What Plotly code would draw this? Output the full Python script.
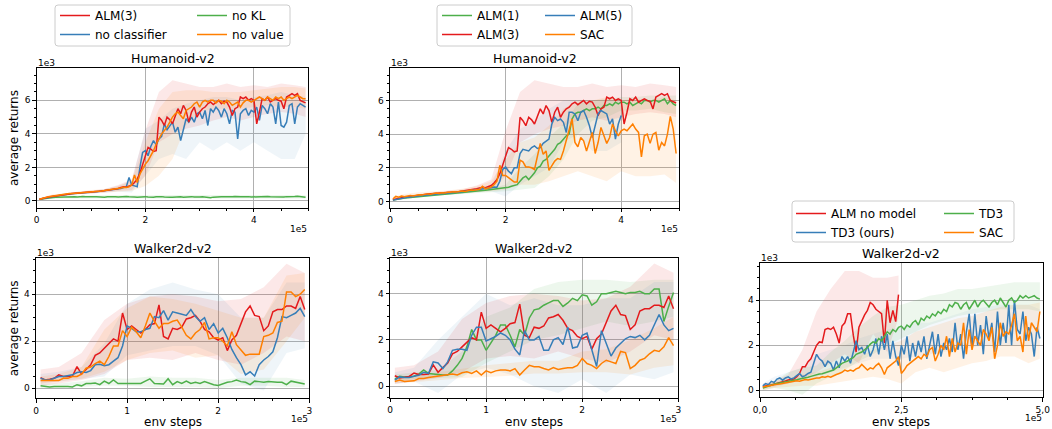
import numpy as np
import plotly.graph_objects as go

W, H = 1052, 429
RED, BLUE, GREEN, ORANGE = "#e41a1c", "#377eb8", "#4daf4a", "#ff7f00"
FONT = "DejaVu Sans"

# ---------------- data (returns in 1e3, env steps in 1e5) ----------------
HUM_STEPS = np.round(np.arange(1, 100) * 0.05, 2)      # 0.05 .. 4.95
WALK_STEPS = np.round(np.arange(1, 60) * 0.05, 2)      # 0.05 .. 2.95
HB_X = [0.05, 0.25, 0.5, 0.75, 1.0, 1.25, 1.5, 1.75, 2.0, 2.25, 2.5, 2.75,
        3.0, 3.25, 3.5, 3.75, 4.0, 4.25, 4.5, 4.75, 4.95]
WB_X = [0.05, 0.25, 0.5, 0.75, 1.0, 1.25, 1.5, 1.75, 2.0, 2.25, 2.5, 2.75, 2.95]
RB5_X = [0.05, 0.25, 0.5, 0.75, 1.0, 1.25, 1.5, 1.75, 2.0, 2.25, 2.45]

# Humanoid-v2
H_ALM3 = [0.10,0.15,0.18,0.22,0.25,0.28,0.30,0.33,0.35,0.38,0.40,0.42,0.44,0.45,0.47,0.48,0.50,0.51,0.52,0.54,
          0.55,0.56,0.58,0.60,0.62,0.65,0.68,0.70,0.72,0.75,
          0.80,0.85,0.82,0.90,0.95,1.10,1.30,1.65,2.20,2.75,
          3.20,3.10,2.95,3.00,5.00,4.80,4.50,5.00,4.85,4.60,
          5.10,5.50,5.20,5.70,5.40,4.70,5.30,5.60,5.00,5.30,
          5.50,5.60,5.80,5.90,5.75,5.90,6.00,5.80,5.95,5.90,
          5.60,5.10,5.50,5.60,6.20,6.10,6.20,6.00,6.10,6.00,
          4.60,5.30,6.10,6.00,6.20,5.90,6.00,6.10,6.00,5.95,
          5.50,6.20,6.30,6.40,6.30,6.40,6.00,5.90,5.85]
H_NOCLS = [0.10,0.14,0.17,0.21,0.24,0.27,0.30,0.32,0.35,0.37,0.39,0.41,0.43,0.44,0.46,0.47,0.49,0.50,0.51,0.53,
           0.54,0.55,0.57,0.59,0.60,0.63,0.66,0.68,0.70,0.72,
           0.75,0.80,0.85,1.40,0.95,0.90,0.85,2.00,2.90,3.00,
           2.70,3.25,3.60,3.35,3.70,3.85,4.60,4.25,4.50,4.70,
           4.10,4.40,3.60,4.30,4.90,4.70,5.00,4.70,5.20,5.30,
           4.90,5.40,4.50,5.50,5.30,5.60,5.40,5.00,5.50,5.20,
           4.60,5.40,5.30,3.70,5.20,5.40,5.50,5.10,5.40,5.30,
           5.60,4.80,5.70,5.50,5.20,5.80,5.60,4.60,5.90,4.50,
           4.40,4.70,5.70,5.80,4.60,5.60,5.80,5.70,5.60]
H_NOKL = [0.10,0.13,0.16,0.18,0.20,0.21,0.22,0.23,0.24,0.23,0.25,0.24,0.26,0.25,0.24,0.26,0.27,0.25,0.24,0.23,
          0.25,0.26,0.24,0.22,0.23,0.25,0.26,0.27,0.25,0.24,0.26,0.28,0.27,0.25,0.26,0.24,0.23,0.25,0.27,0.26,
          0.24,0.22,0.23,0.25,0.27,0.26,0.24,0.25,0.23,0.22,0.24,0.26,0.25,0.23,0.24,0.27,0.26,0.24,0.22,0.24,
          0.25,0.23,0.22,0.20,0.23,0.25,0.24,0.26,0.25,0.24,0.23,0.25,0.27,0.28,0.26,0.25,0.27,0.26,0.24,0.25,
          0.23,0.24,0.26,0.28,0.27,0.25,0.24,0.26,0.25,0.23,0.24,0.26,0.25,0.24,0.27,0.28,0.26,0.24,0.23]
H_NOVAL = [0.10,0.16,0.20,0.24,0.27,0.30,0.32,0.34,0.37,0.40,0.42,0.44,0.45,0.46,0.48,0.49,0.50,0.52,0.53,0.55,
           0.56,0.57,0.58,0.60,0.62,0.64,0.66,0.68,0.70,0.74,
           0.78,0.82,0.80,0.85,0.95,1.55,1.10,1.60,1.90,2.20,
           2.40,2.70,3.00,3.40,3.70,4.00,4.20,4.40,4.70,5.00,
           5.20,5.30,5.10,4.90,5.40,5.50,5.60,5.80,5.90,5.60,
           5.90,6.00,5.90,6.00,6.00,5.85,6.00,5.95,5.80,6.00,
           5.90,5.70,5.80,5.90,5.60,5.85,6.00,6.00,5.90,6.00,
           6.10,6.20,6.10,6.00,6.20,6.10,6.00,6.20,6.10,6.20,
           6.00,6.10,6.20,6.10,6.20,6.30,6.20,6.10,6.10]
H_ALM1 = [0.08,0.12,0.15,0.18,0.20,0.22,0.24,0.26,0.28,0.30,0.32,0.33,0.35,0.36,0.38,0.39,0.40,0.42,0.43,0.45,
          0.46,0.48,0.50,0.52,0.53,0.55,0.56,0.58,0.60,0.62,
          0.63,0.65,0.66,0.68,0.70,0.72,0.74,0.75,0.78,0.80,
          0.85,0.90,0.95,1.00,1.20,1.40,1.50,1.30,1.50,1.70,
          2.00,2.10,2.40,2.50,2.70,2.90,3.10,3.40,3.50,3.70,
          3.90,4.00,4.90,5.20,5.30,5.30,5.40,5.50,5.40,5.50,
          5.50,5.60,5.50,5.70,5.70,5.80,5.70,5.90,5.80,5.90,
          5.90,5.80,5.90,5.70,5.80,5.90,5.80,6.00,6.00,5.90,
          6.00,6.00,5.90,6.00,6.10,5.80,6.00,5.80,5.70]
H_ALM5 = [0.08,0.12,0.16,0.20,0.23,0.25,0.27,0.30,0.32,0.33,0.35,0.37,0.39,0.40,0.42,0.44,0.45,0.47,0.48,0.50,
          0.52,0.54,0.55,0.56,0.58,0.60,0.62,0.64,0.66,0.68,
          0.70,0.72,0.75,0.78,0.82,0.86,0.85,1.20,1.90,2.05,
          1.80,1.65,2.00,2.00,2.85,3.10,3.05,3.00,3.20,3.30,
          3.15,3.20,3.45,3.60,3.70,4.60,5.00,4.80,4.90,4.70,
          4.10,5.30,5.30,5.20,4.80,5.30,5.40,5.00,4.50,3.80,
          4.60,5.20,5.40,5.30,5.20,4.60,4.90,3.70,4.60,5.10]
H_SAC = [0.15,0.30,0.25,0.32,0.28,0.33,0.35,0.32,0.38,0.40,0.38,0.42,0.45,0.43,0.47,0.50,0.48,0.52,0.50,0.55,
         0.55,0.58,0.56,0.60,0.62,0.60,0.65,0.68,0.66,0.70,
         0.72,0.90,0.75,0.80,0.85,1.00,1.20,2.15,1.55,1.55,
         1.40,1.25,1.15,1.15,2.45,2.35,2.05,2.05,2.00,1.90,
         2.65,3.45,2.80,3.00,1.85,2.10,2.40,2.55,2.50,3.00,
         3.60,4.20,4.90,3.50,3.25,3.80,3.60,3.00,3.60,4.10,
         2.85,3.50,4.40,3.90,3.45,3.80,4.60,4.20,3.90,4.20,
         4.30,4.20,4.40,4.60,4.30,4.10,2.65,3.90,4.00,3.45,
         4.00,4.10,3.05,3.50,3.30,4.00,5.05,4.30,2.85]

# Humanoid bands (lower, upper)
HB_ALM3 = ([0.05,0.15,0.30,0.40,0.45,0.50,0.60,0.65,1.50,3.50,4.00,4.30,4.50,4.80,5.00,4.80,5.00,5.20,5.30,5.20,5.00],
           [0.15,0.35,0.45,0.55,0.65,0.72,0.95,1.30,4.20,6.50,7.20,7.00,6.80,6.80,7.00,6.80,6.90,6.80,7.00,6.90,6.80])
HB_NOCLS = ([0.05,0.15,0.30,0.40,0.45,0.50,0.55,0.50,1.50,2.50,2.80,2.50,3.50,3.00,3.50,3.00,3.50,3.00,2.50,2.50,4.00],
            [0.15,0.30,0.45,0.55,0.60,0.70,0.90,1.20,4.30,4.80,5.50,5.80,6.00,6.20,6.20,6.00,6.20,6.30,6.50,6.30,6.20])
HB_NOVAL = ([0.05,0.20,0.30,0.40,0.45,0.50,0.55,0.60,0.90,1.50,2.50,4.50,5.30,5.50,5.50,5.50,5.60,5.70,5.60,5.60,5.50],
            [0.15,0.35,0.45,0.55,0.65,0.70,0.90,1.20,3.50,5.50,6.50,6.60,6.60,6.50,6.50,6.50,6.60,6.70,6.80,6.80,6.70])
HB_NOKL = ([0.05,0.12,0.15,0.15,0.15,0.16,0.15,0.16,0.15,0.14,0.15,0.16,0.15,0.15,0.16,0.17,0.16,0.15,0.16,0.15,0.15],
           [0.15,0.30,0.33,0.34,0.33,0.35,0.34,0.35,0.34,0.33,0.35,0.36,0.34,0.35,0.36,0.37,0.36,0.35,0.36,0.36,0.34])
HB_ALM1 = ([0.05,0.15,0.25,0.35,0.40,0.45,0.50,0.55,0.60,0.70,0.80,1.50,2.50,4.00,4.80,5.00,5.40,5.40,5.50,5.30,5.20],
           [0.12,0.25,0.35,0.45,0.50,0.60,0.70,0.80,1.00,2.00,2.80,3.80,4.60,5.80,6.00,6.10,6.20,6.20,6.30,6.30,6.30])
HB_ALM5 = ([0.05,0.15,0.25,0.35,0.40,0.45,0.55,0.60,0.30,1.00,1.50,2.00,3.50,4.00,3.00,3.00,3.50],
           [0.12,0.25,0.35,0.45,0.50,0.60,0.70,0.90,3.00,4.30,4.80,5.50,6.00,6.00,6.00,6.00,6.00])
HB_SAC = ([0.05,0.20,0.30,0.40,0.45,0.50,0.55,0.60,0.70,1.00,1.00,1.20,1.50,1.80,1.50,1.20,1.80,1.50,1.50,1.60,1.10],
          [0.30,0.45,0.55,0.60,0.65,0.75,0.90,1.20,2.50,3.50,3.80,4.50,5.50,6.00,6.00,6.20,6.00,6.10,6.00,6.20,6.00])

# Walker2d-v2 (left / middle)
W_ALM3 = [0.45,0.35,0.38,0.42,0.57,0.50,0.50,0.52,0.92,0.60,
          0.80,1.00,1.40,1.50,1.70,1.90,2.10,2.00,3.20,2.50,
          2.65,2.50,2.35,2.50,2.70,2.75,3.55,2.20,2.10,2.55,
          2.50,2.60,2.95,3.00,3.10,2.85,2.50,2.40,2.15,2.05,
          2.15,1.60,2.05,2.25,2.75,3.25,3.50,3.10,3.05,2.45,
          2.65,3.25,3.35,3.35,3.50,3.50,3.40,3.90,3.35]
W_NOVAL = [0.33,0.33,0.33,0.35,0.33,0.42,0.42,0.50,0.50,0.60,
           0.85,0.90,1.05,1.15,1.00,1.35,1.80,1.80,2.45,2.20,
           2.60,2.40,2.15,2.65,3.20,2.85,2.55,2.75,2.75,2.85,
           2.90,2.60,2.25,2.10,2.35,2.50,2.80,2.10,2.15,2.15,
           2.00,1.80,2.40,1.85,1.60,1.40,1.45,1.45,1.45,2.20,
           2.25,2.35,2.80,2.85,4.10,4.10,3.90,4.00,4.20]
W_NOCLS = [0.42,0.35,0.35,0.42,0.50,0.50,0.52,0.57,0.67,0.70,
           0.67,0.75,1.00,1.02,0.96,1.00,1.15,1.30,1.80,2.65,
           2.55,2.40,2.40,2.50,2.55,3.05,3.00,3.30,2.90,3.25,
           3.20,3.15,3.10,3.35,3.05,2.85,3.00,2.50,2.75,2.35,
           2.55,2.15,1.65,1.30,1.00,0.57,0.70,0.52,1.00,1.20,
           1.35,1.55,2.15,3.05,3.00,3.10,3.20,3.40,3.05]
W_NOKL = [0.10,0.08,0.05,0.07,0.08,0.08,0.07,0.05,0.15,0.10,0.20,0.20,0.22,0.15,0.30,0.20,0.35,0.20,0.20,0.22,
          0.20,0.22,0.20,0.30,0.40,0.20,0.20,0.18,0.40,0.15,0.28,0.20,0.30,0.20,0.25,0.20,0.28,0.20,0.15,0.12,
          0.20,0.25,0.28,0.35,0.28,0.25,0.15,0.30,0.28,0.25,0.28,0.25,0.25,0.25,0.15,0.30,0.25,0.22,0.18]
W_ALM5 = [0.26,0.40,0.37,0.37,0.43,0.47,0.60,0.55,1.05,1.00,
          0.76,1.05,1.55,1.60,1.60,1.55,2.20,2.55,2.55,1.95,
          2.05,2.15,2.30,2.20,2.00,1.60,1.35,2.40,2.00,2.00,
          2.15,1.55,1.55,2.00,2.10,1.80,2.55,1.65,1.70,2.20,
          2.30,1.55,0.85,2.40,1.85,1.30,1.65,1.85,2.05,2.15,
          2.10,2.20,2.00,2.20,2.65,3.10,2.65,2.40,2.50]
W_ALM1 = [0.30,0.43,0.40,0.40,0.43,0.52,0.70,0.55,0.52,0.52,
          0.48,0.48,0.66,0.90,1.20,1.70,2.45,2.00,2.00,1.55,
          1.90,2.20,2.65,2.65,2.20,1.70,2.45,2.20,2.95,3.30,
          3.35,3.50,3.60,3.70,3.70,3.45,3.60,3.80,3.70,3.95,
          3.90,3.50,3.65,4.00,4.00,4.05,4.10,4.05,4.00,4.05,
          4.05,4.10,4.00,4.00,4.20,4.20,2.80,3.45,4.05]
W_SAC = [0.20,0.26,0.20,0.23,0.23,0.33,0.33,0.37,0.40,0.43,
         0.48,0.48,0.52,0.48,0.58,0.62,0.55,0.66,0.48,0.66,
         0.58,0.66,0.70,0.70,0.66,0.76,0.48,0.70,0.90,0.84,
         0.84,0.76,0.70,0.80,0.72,0.76,0.80,0.80,0.90,1.20,
         0.98,0.90,0.76,0.98,1.12,1.05,0.98,1.50,1.45,0.76,
         0.90,1.12,1.20,1.40,1.55,1.50,1.70,2.10,1.75]

WB_ALM3 = ([0.10,0.20,0.35,0.60,1.20,1.30,1.20,1.50,1.20,1.00,1.50,2.20,2.00],
           [0.80,0.90,1.50,2.90,3.60,3.90,4.00,3.90,3.70,3.80,4.30,5.30,4.90])
WB_NOVAL = ([0.20,0.30,0.40,0.70,1.20,1.50,1.60,1.30,1.40,0.60,0.80,2.00,3.00],
            [0.50,0.60,0.90,2.50,3.40,3.90,3.80,3.60,3.30,3.00,3.00,4.80,4.90])
WB_NOCLS = ([0.20,0.30,0.40,0.50,1.40,1.60,1.80,1.80,1.40,0.20,-0.10,1.50,1.70],
            [0.60,0.70,0.90,1.90,3.60,4.20,4.50,4.20,4.00,3.00,3.00,4.50,4.50])
WB_NOKL = ([0.00,0.00,0.05,0.10,0.10,0.05,0.05,0.05,0.00,0.10,0.10,0.05,0.05],
           [0.20,0.20,0.30,0.45,0.40,0.50,0.45,0.45,0.35,0.45,0.45,0.45,0.35])
WB_ALM1 = ([0.20,0.30,0.35,0.40,1.00,1.50,2.00,2.20,2.50,2.80,2.60,2.80,3.00],
           [0.50,0.60,0.70,1.50,3.00,3.40,4.20,4.50,4.60,4.60,4.50,4.60,4.60])
WB_ALM5 = ([0.10,0.20,-0.30,0.50,0.80,0.50,0.00,-0.30,0.30,-0.30,0.50,0.30,0.60],
           [0.60,0.80,2.00,3.00,4.00,3.50,3.80,3.50,3.50,3.80,3.80,4.50,4.50])
WB_SAC = ([0.10,0.15,0.25,0.35,0.40,0.45,0.55,0.55,0.60,0.60,0.50,0.80,0.90],
          [0.35,0.40,0.60,0.75,0.90,1.00,1.10,1.10,1.50,1.60,2.00,2.50,3.00])

# Walker2d-v2 (right)
R_ALMNM = [0.16,0.20,0.22,0.24,0.27,0.30,0.33,0.38,0.42,0.46,0.48,0.50,0.60,0.75,1.05,1.05,1.27,1.40,1.70,2.00,
           2.15,2.12,2.70,2.75,2.70,2.80,2.50,2.10,2.85,3.00,3.40,3.40,2.45,1.70,2.80,3.10,3.35,3.55,3.90,3.80,
           3.60,3.50,3.40,2.10,4.00,3.00,3.55,3.05,4.25]
R_TD3OURS = [0.20,0.30,0.25,0.40,0.35,0.50,0.55,0.45,0.55,0.60,0.50,0.55,0.65,0.75,0.60,0.65,0.75,0.80,1.20,1.60,
             1.40,1.30,1.05,1.30,1.20,0.90,1.30,1.00,1.50,1.30,
             1.50,1.20,1.70,2.20,1.80,1.90,1.60,2.00,1.50,1.80,
             2.30,1.60,2.40,1.80,2.50,1.40,2.20,1.50,1.10,2.00,
             1.60,2.40,1.30,2.10,1.50,2.20,1.70,2.40,1.40,2.00,
             2.60,1.60,2.50,1.50,2.10,1.80,2.30,1.70,3.00,1.80,
             2.50,1.40,2.60,3.40,1.90,3.40,2.00,2.90,1.60,3.30,
             2.30,3.00,1.70,3.50,2.00,3.00,2.10,3.80,2.00,4.00,
             2.70,2.50,3.50,2.20,2.80,2.50,1.50,2.80,2.30]
R_TD3 = [0.10,0.15,0.20,0.24,0.27,0.30,0.32,0.35,0.37,0.40,0.42,0.45,0.47,0.50,0.52,0.55,0.58,0.62,0.66,0.70,
         0.72,0.74,0.78,0.80,0.85,0.90,1.00,1.10,1.20,1.25,
         1.30,1.40,1.45,1.60,1.65,1.70,1.80,1.90,2.05,2.15,
         2.10,2.30,2.20,2.40,2.60,2.50,2.70,2.60,2.80,2.85,
         2.70,2.90,2.80,3.00,3.10,2.90,3.20,3.10,3.30,3.20,
         3.40,3.30,3.50,3.40,3.60,3.50,3.80,3.70,3.90,3.85,
         3.60,3.80,3.90,3.60,3.80,4.00,3.70,3.90,4.00,3.85,
         3.70,3.90,4.00,3.80,4.10,3.90,3.70,4.00,4.10,3.90,
         4.00,4.20,4.10,4.20,4.10,4.15,4.20,4.10,4.05]
R_SAC = [0.15,0.18,0.20,0.22,0.25,0.27,0.28,0.30,0.32,0.35,0.37,0.40,0.42,0.40,0.45,0.48,0.46,0.50,0.52,0.55,
         0.55,0.60,0.58,0.62,0.58,0.65,0.70,0.75,0.80,0.90,
         0.85,0.90,0.85,0.95,1.00,1.15,1.00,0.90,1.00,0.95,
         1.10,1.20,1.00,0.70,1.00,1.10,1.20,1.30,1.50,0.75,
         0.90,1.10,1.20,1.30,1.40,1.50,1.40,1.60,1.50,1.80,
         1.90,1.30,1.60,2.00,1.80,2.40,1.50,2.30,1.70,2.10,
         2.00,3.00,1.60,2.70,1.80,2.40,2.20,2.00,2.70,2.50,
         2.20,2.80,1.40,2.00,3.00,2.40,2.60,2.50,2.90,3.40,
         2.20,2.40,1.70,3.30,2.20,3.00,2.80,2.60,3.50]

RB_ALMNM = ([0.05,0.15,0.30,0.50,0.80,1.20,1.60,1.20,2.50,1.70,3.20],
            [0.30,0.40,0.70,1.80,3.50,4.50,5.30,5.30,5.00,5.00,5.10])
RB_TD3 = ([0.00,0.10,0.00,-0.20,0.30,0.60,0.90,1.30,1.60,2.00,2.30,2.60,2.90,3.10,3.30,3.40,3.50,3.60,3.60,3.60,3.50],
          [0.20,0.40,0.80,1.00,1.10,1.70,2.20,2.80,3.30,3.70,3.80,4.00,4.20,4.30,4.50,4.50,4.60,4.70,4.80,4.80,4.80])
RB_SAC = ([0.00,0.10,0.15,0.20,0.20,0.30,0.40,0.50,0.60,0.50,0.30,0.80,1.00,0.80,1.00,1.20,1.30,1.50,1.50,1.20,1.40],
          [0.25,0.35,0.50,0.70,0.80,1.00,1.20,1.50,1.80,2.00,2.20,2.60,2.80,3.00,3.20,3.30,3.50,3.70,3.80,3.80,3.90])
RB_TD3OURS = ([0.10,0.20,0.30,0.40,0.60,0.80,1.00,1.20,1.40,1.40,1.40,1.50,1.60,1.70,1.80,1.90,2.00,2.00,2.00,2.00,2.00],
              [0.30,0.60,0.80,1.00,1.60,1.80,2.00,2.30,2.50,2.70,2.80,3.00,3.00,3.20,3.40,3.60,3.70,3.80,3.80,3.80,3.60])

# ---------------- layout helpers ----------------
def fx(px):
    return px / W

def fy(py):
    return 1 - py / H

def rgba(hexc, a):
    h = hexc.lstrip("#")
    return f"rgba({int(h[0:2],16)},{int(h[2:4],16)},{int(h[4:6],16)},{a})"

fig = go.Figure()

def band(ax, xs, lo_hi, color, alpha=0.10):
    lo, hi = lo_hi
    n = min(len(xs), len(lo), len(hi))
    xs, lo, hi = list(xs[:n]), list(lo[:n]), list(hi[:n])
    fig.add_trace(go.Scatter(x=xs + xs[::-1], y=hi + lo[::-1], fill="toself",
                             fillcolor=rgba(color, alpha), line=dict(width=0),
                             mode="lines", showlegend=False, hoverinfo="skip",
                             xaxis="x" + ax, yaxis="y" + ax))

def line(ax, xs, ys, color, name, legend=None, rank=1000):
    n = min(len(xs), len(ys))
    fig.add_trace(go.Scatter(x=list(xs[:n]), y=list(ys[:n]), mode="lines", name=name,
                             line=dict(color=color, width=1.5), legendrank=rank,
                             showlegend=legend is not None, legend=legend or "legend",
                             xaxis="x" + ax, yaxis="y" + ax))

# Panel 1: Humanoid ablation
band("", HB_X, HB_ALM3, RED)
band("", HB_X, HB_NOCLS, BLUE, 0.08)
band("", HB_X, HB_NOKL, GREEN)
band("", HB_X, HB_NOVAL, ORANGE)
line("", HUM_STEPS, H_NOKL, GREEN, "no KL", "legend2", 1)
line("", HUM_STEPS, H_NOCLS, BLUE, "no classifier", "legend", 2)
line("", HUM_STEPS, H_ALM3, RED, "ALM(3)", "legend", 1)
line("", HUM_STEPS, H_NOVAL, ORANGE, "no value", "legend2", 2)

# Panel 2: Humanoid horizons
band("2", HB_X, HB_ALM1, GREEN)
band("2", HB_X, HB_ALM3, RED)
band("2", HB_X, HB_ALM5, BLUE, 0.08)
band("2", HB_X, HB_SAC, ORANGE)
line("2", HUM_STEPS, H_ALM1, GREEN, "ALM(1)", "legend3", 1)
line("2", HUM_STEPS, H_ALM3, RED, "ALM(3)", "legend3", 2)
line("2", HUM_STEPS, H_ALM5, BLUE, "ALM(5)", "legend4", 1)
line("2", HUM_STEPS, H_SAC, ORANGE, "SAC", "legend4", 2)

# Panel 3: Walker ablation
band("3", WB_X, WB_ALM3, RED)
band("3", WB_X, WB_NOCLS, BLUE, 0.08)
band("3", WB_X, WB_NOKL, GREEN)
band("3", WB_X, WB_NOVAL, ORANGE)
line("3", WALK_STEPS, W_ALM3, RED, "ALM(3)")
line("3", WALK_STEPS, W_NOCLS, BLUE, "no classifier")
line("3", WALK_STEPS, W_NOKL, GREEN, "no KL")
line("3", WALK_STEPS, W_NOVAL, ORANGE, "no value")

# Panel 4: Walker horizons
band("4", WB_X, WB_ALM1, GREEN)
band("4", WB_X, WB_ALM3, RED)
band("4", WB_X, WB_ALM5, BLUE, 0.08)
band("4", WB_X, WB_SAC, ORANGE)
line("4", WALK_STEPS, W_ALM1, GREEN, "ALM(1)")
line("4", WALK_STEPS, W_ALM3, RED, "ALM(3)")
line("4", WALK_STEPS, W_ALM5, BLUE, "ALM(5)")
line("4", WALK_STEPS, W_SAC, ORANGE, "SAC")

# Panel 5: Walker model-free
band("5", RB5_X, RB_ALMNM, RED)
band("5", HB_X, RB_TD3OURS, BLUE, 0.06)
band("5", HB_X, RB_TD3, GREEN)
band("5", HB_X, RB_SAC, ORANGE)
line("5", HUM_STEPS, R_ALMNM, RED, "ALM no model", "legend5", 1)
line("5", HUM_STEPS, R_TD3OURS, BLUE, "TD3 (ours)", "legend5", 2)
line("5", HUM_STEPS, R_TD3, GREEN, "TD3", "legend6", 1)
line("5", HUM_STEPS, R_SAC, ORANGE, "SAC", "legend6", 2)

# ---------------- axes ----------------
PANELS = {
    "":  dict(px=(36.7, 308.3), py=(68.3, 207.7), xr=[0, 5], yr=[-0.40, 7.91],
              xt=[0, 2, 4], xtt=["0", "2", "4"], xm=0.5, yt=[0, 2, 4, 6], title="Humanoid-v2"),
    "2": dict(px=(390.0, 679.0), py=(68.3, 207.7), xr=[0, 5], yr=[-0.37, 7.91],
              xt=[0, 2, 4], xtt=["0", "2", "4"], xm=0.5, yt=[0, 2, 4, 6], title="Humanoid-v2"),
    "3": dict(px=(36.0, 309.3), py=(258.3, 398.3), xr=[0, 3], yr=[-0.43, 5.53],
              xt=[0, 1, 2, 3], xtt=["0", "1", "2", "3"], xm=0.2, yt=[0, 2, 4], title="Walker2d-v2"),
    "4": dict(px=(390.0, 678.3), py=(258.3, 397.7), xr=[0, 3], yr=[-0.50, 5.53],
              xt=[0, 1, 2, 3], xtt=["0", "1", "2", "3"], xm=0.2, yt=[0, 2, 4], title="Walker2d-v2"),
    "5": dict(px=(760.0, 1042.7), py=(263.3, 397.3), xr=[0, 5], yr=[-0.31, 5.64],
              xt=[0, 2.5, 5], xtt=["0,0", "2,5", "5,0"], xm=0.625, yt=[0, 2, 4], title="Walker2d-v2"),
}

common = dict(showline=True, linecolor="black", linewidth=1, mirror=True,
              ticks="outside", ticklen=3.5, tickwidth=1, tickcolor="black",
              showgrid=True, gridcolor="#b0b0b0", gridwidth=1, zeroline=False,
              automargin=False,
              tickfont=dict(family=FONT, size=9, color="black"))

annotations = []
for key, p in PANELS.items():
    x0, x1 = p["px"]
    y0, y1 = p["py"]
    fig.layout["xaxis" + key] = dict(
        common, domain=[fx(x0), fx(x1)], range=p["xr"], anchor="y" + key,
        tickmode="array", tickvals=p["xt"], ticktext=p["xtt"],
        minor=dict(ticks="outside", ticklen=2, tickwidth=0.8, tickcolor="black",
                   dtick=p["xm"], tick0=0, showgrid=False))
    fig.layout["yaxis" + key] = dict(
        common, domain=[fy(y1), fy(y0)], range=p["yr"], anchor="x" + key,
        tickmode="array", tickvals=p["yt"], ticktext=[str(v) for v in p["yt"]],
        minor=dict(ticks="outside", ticklen=2, tickwidth=0.8, tickcolor="black",
                   dtick=0.5, tick0=0, showgrid=False))
    cx = (x0 + x1) / 2
    annotations.append(dict(text=p["title"], x=fx(cx), y=fy(y0 - 10), xref="paper", yref="paper",
                            xanchor="center", yanchor="middle", showarrow=False,
                            font=dict(family=FONT, size=12.5, color="black")))
    annotations.append(dict(text="1e3", x=fx(x0 - 1), y=fy(y0 - 5), xref="paper", yref="paper",
                            xanchor="left", yanchor="middle", showarrow=False,
                            font=dict(family=FONT, size=9, color="black")))
    annotations.append(dict(text="1e5", x=fx(x1 + 1), y=fy(y1 + 21), xref="paper", yref="paper",
                            xanchor="right", yanchor="middle", showarrow=False,
                            font=dict(family=FONT, size=9, color="black")))

for key in ["", "3"]:
    y0, y1 = PANELS[key]["py"]
    annotations.append(dict(text="average returns", x=fx(14), y=fy((y0 + y1) / 2),
                            xref="paper", yref="paper", textangle=-90,
                            xanchor="center", yanchor="middle", showarrow=False,
                            font=dict(family=FONT, size=12, color="black")))
for key in ["3", "4", "5"]:
    x0, x1 = PANELS[key]["px"]
    annotations.append(dict(text="env steps", x=fx((x0 + x1) / 2), y=fy(422),
                            xref="paper", yref="paper", xanchor="center", yanchor="middle",
                            showarrow=False, font=dict(family=FONT, size=12, color="black")))

# ---------------- legends ----------------
def leg(px, py):
    return dict(x=fx(px), y=fy(py), xanchor="left", yanchor="top", orientation="v",
                bgcolor="rgba(0,0,0,0)", borderwidth=0, tracegroupgap=0,
                font=dict(family=FONT, size=12, color="black"))

legends = {
    "legend": leg(55, 1), "legend2": leg(192, 1),
    "legend3": leg(437, 1), "legend4": leg(540, 1),
    "legend5": leg(791, 199), "legend6": leg(939, 199),
}

def rrect(x0, y0, x1, y1, r=3):
    ax0, ax1 = fx(x0), fx(x1)
    ay0, ay1 = fy(y0), fy(y1)
    rx, ry = r / W, r / H
    path = (f"M{ax0+rx},{ay0} L{ax1-rx},{ay0} Q{ax1},{ay0} {ax1},{ay0-ry} "
            f"L{ax1},{ay1+ry} Q{ax1},{ay1} {ax1-rx},{ay1} L{ax0+rx},{ay1} "
            f"Q{ax0},{ay1} {ax0},{ay1+ry} L{ax0},{ay0-ry} Q{ax0},{ay0} {ax0+rx},{ay0} Z")
    return dict(type="path", path=path, xref="paper", yref="paper",
                line=dict(color="#cccccc", width=1), fillcolor="rgba(255,255,255,0)", layer="above")

shapes = [rrect(55, 5, 290, 46), rrect(437, 5, 632, 46), rrect(792, 201, 1014, 242)]

fig.update_layout(width=W, height=H, autosize=False,
                  margin=dict(l=0, r=0, t=0, b=0, pad=0, autoexpand=False),
                  paper_bgcolor="white", plot_bgcolor="white",
                  annotations=annotations, shapes=shapes,
                  font=dict(family=FONT, color="black"),
                  **legends)

fig.write_html("out.html", config={"displayModeBar": False},
               post_script="document.body.style.margin='0';document.body.style.overflow='hidden';")
